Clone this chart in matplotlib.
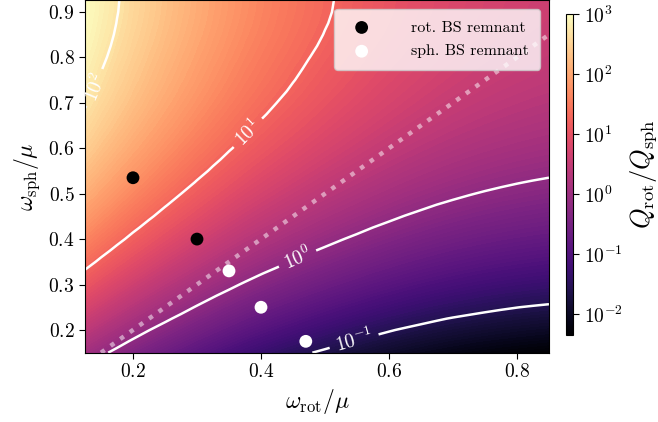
import numpy as np
import matplotlib
matplotlib.use('Agg')
import matplotlib.pyplot as plt
from matplotlib.colors import LogNorm
from matplotlib.cm import ScalarMappable
from matplotlib.ticker import FormatStrFormatter, NullLocator

plt.rcParams.update({
    'font.family': 'serif',
    'font.serif': ['cmr10'],
    'mathtext.fontset': 'cm',
    'axes.unicode_minus': False,
    'axes.formatter.use_mathtext': True,
})

# ---- data ----
omega_rot = [0.125, 0.15, 0.175, 0.2, 0.225, 0.25, 0.275, 0.3, 0.325, 0.35,
             0.375, 0.4, 0.425, 0.45, 0.475, 0.5, 0.525, 0.55, 0.575, 0.6,
             0.625, 0.65, 0.675, 0.7, 0.725, 0.75, 0.775, 0.8, 0.825, 0.85]
log10_Q_rot = [2.191, 2.085, 1.983, 1.884, 1.791, 1.701, 1.615, 1.531, 1.451, 1.374,
               1.301, 1.234, 1.171, 1.111, 1.053, 0.998, 0.946, 0.896, 0.848, 0.803,
               0.761, 0.722, 0.686, 0.653, 0.624, 0.597, 0.573, 0.552, 0.533, 0.516]

omega_sph = [0.15, 0.175, 0.2, 0.225, 0.25, 0.275, 0.3, 0.325, 0.35, 0.375,
             0.4, 0.425, 0.45, 0.475, 0.5, 0.525, 0.55, 0.575, 0.6, 0.625,
             0.65, 0.675, 0.7, 0.725, 0.75, 0.775, 0.8, 0.825, 0.85, 0.875,
             0.9, 0.925]
log10_Q_sph = [2.042, 1.913, 1.787, 1.666, 1.549, 1.437, 1.328, 1.224, 1.124, 1.029,
               0.937, 0.850, 0.767, 0.689, 0.614, 0.544, 0.478, 0.417, 0.359, 0.306,
               0.257, 0.213, 0.172, 0.136, 0.104, 0.077, 0.050, 0.026, 0.005, -0.012,
               -0.024, -0.030]

rot_remnant_w_rot = [0.2, 0.3]
rot_remnant_w_sph = [0.535, 0.40]
sph_remnant_w_rot = [0.35, 0.40, 0.47]
sph_remnant_w_sph = [0.33, 0.25, 0.175]

contour_levels = [0.1, 1.0, 10.0, 100.0]
contour_texts = [r'$10^{-1}$', r'$10^{0}$', r'$10^{1}$', r'$10^{2}$']
cbar_ticks = [1e-2, 1e-1, 1e0, 1e1, 1e2, 1e3]
cbar_min, cbar_max = 10 ** -2.35, 1e3

# ---- build ratio field ----
X, Y = np.meshgrid(omega_rot, omega_sph)
ratio = 10 ** (np.array(log10_Q_rot)[None, :] - np.array(log10_Q_sph)[:, None])

W, H = 658, 422
fig = plt.figure(figsize=(W / 100, H / 100), dpi=100)
ax = fig.add_axes([85 / W, 1 - 352.7 / H, (549 - 85) / W, (352.7 - 0.5) / H])
cax = fig.add_axes([565.7 / W, 1 - 335 / H, 7.6 / W, (335 - 14) / H])

img_norm = LogNorm(vmin=ratio.min(), vmax=ratio.max())
lv = np.logspace(np.log10(ratio.min()), np.log10(ratio.max()), 121)
ax.contourf(X, Y, ratio, levels=lv, norm=img_norm, cmap='magma')

cs = ax.contour(X, Y, ratio, levels=contour_levels, colors='white', linewidths=1.8)
fmt = dict(zip(cs.levels, contour_texts))
ax.clabel(cs, fmt=fmt, fontsize=14, inline=True, inline_spacing=6,
          manual=[(0.545, 0.178), (0.455, 0.364), (0.372, 0.645), (0.137, 0.735)])

diag = [0.0, 1.0]
ax.plot(diag, diag, ls=':', color='white', alpha=0.5, lw=3.2, zorder=3)

ax.scatter(rot_remnant_w_rot, rot_remnant_w_sph, s=85, c='black', zorder=5,
           label='rot. BS remnant', edgecolors='none')
ax.scatter(sph_remnant_w_rot, sph_remnant_w_sph, s=85, c='white', zorder=5,
           label='sph. BS remnant', edgecolors='none')

ax.set_xlim(omega_rot[0], omega_rot[-1])
ax.set_ylim(omega_sph[0], omega_sph[-1])
ax.set_xticks([0.2, 0.4, 0.6, 0.8])
ax.set_yticks([0.2, 0.3, 0.4, 0.5, 0.6, 0.7, 0.8, 0.9])
ax.xaxis.set_major_formatter(FormatStrFormatter(r'$%.1f$'))
ax.yaxis.set_major_formatter(FormatStrFormatter(r'$%.1f$'))
ax.tick_params(labelsize=14, length=4)
ax.set_xlabel(r'$\omega_{\rm rot}/\mu$', fontsize=17, labelpad=4)
ax.set_ylabel(r'$\omega_{\rm sph}/\mu$', fontsize=17, labelpad=4)

leg = ax.legend(loc='upper right', fontsize=11.5, framealpha=0.8, edgecolor='0.8',
                handletextpad=2.1, handlelength=2.0, borderpad=0.7,
                labelspacing=0.6, borderaxespad=0.55)

sm = ScalarMappable(norm=LogNorm(vmin=cbar_min, vmax=cbar_max), cmap='magma')
cb = fig.colorbar(sm, cax=cax)
cb.set_ticks(cbar_ticks)
cb.ax.yaxis.set_minor_locator(NullLocator())
cb.ax.tick_params(labelsize=14, length=4)
cb.set_label(r'$Q_{\rm rot}/Q_{\rm sph}$', fontsize=19, labelpad=4)
cb.outline.set_linewidth(0.8)

fig.savefig('out.png', dpi=100)
